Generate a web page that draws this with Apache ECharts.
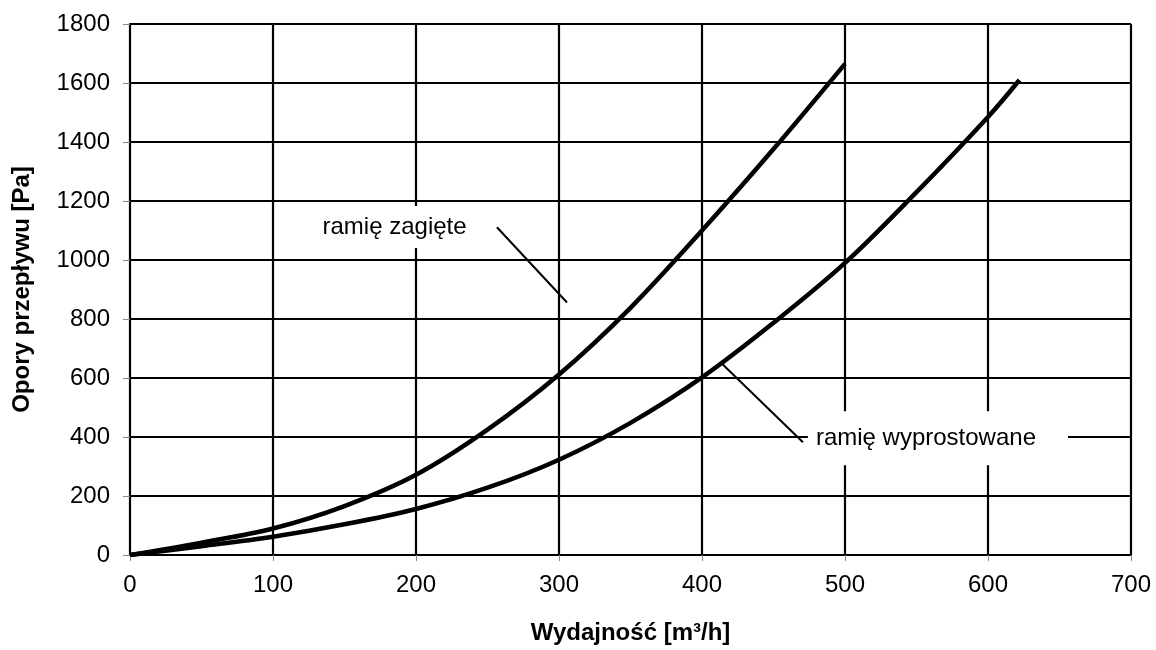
<!DOCTYPE html>
<html>
<head>
<meta charset="utf-8">
<script src="https://cdn.jsdelivr.net/npm/echarts@6/dist/echarts.min.js"></script>
<style>html,body{margin:0;padding:0;background:#fff}#c{width:1156px;height:650px}</style>
</head>
<body>
<div id="c"></div>
<script>
// Flow rate [m3/h] and pressure drop [Pa]
const zagieteQ = [0, 50, 100, 150, 200, 250, 300, 350, 400, 450, 500];
const zagieteP = [0, 42, 90, 166, 272, 425, 612, 838, 1100, 1376, 1665];
const wyprostQ = [0, 50, 100, 150, 200, 250, 300, 350, 400, 450, 500, 550, 600, 622];
const wyprostP = [0, 30, 62, 104, 156, 228, 323, 448, 602, 787, 990, 1230, 1485, 1610];
const xTicks = [0, 100, 200, 300, 400, 500, 600, 700];
const yTicks = [0, 200, 400, 600, 800, 1000, 1200, 1400, 1600, 1800];
const seriesNames = ['ramię zagięte', 'ramię wyprostowane'];
// annotation anchors (data coordinates)
const leaderZagiete = [[256.6, 1111], [305.6, 856]];
const leaderWyprost = [[414, 648], [470.6, 382]];
const labelZagiete = [185, 1112];
const labelWyprost = [565, 396];

const pairs = (xs, ys) => xs.map((x, i) => [x, ys[i]]);
const FONT = 'Liberation Sans, Arial, sans-serif';

const chart = echarts.init(document.getElementById('c'));
chart.setOption({
  backgroundColor: '#fff',
  animation: false,
  grid: { left: 130, right: 25, top: 24, bottom: 90 },
  xAxis: {
    type: 'value', min: xTicks[0], max: xTicks[xTicks.length - 1], interval: 100,
    name: 'Wydajność [m³/h]', nameLocation: 'middle', nameGap: 66,
    nameTextStyle: { fontFamily: FONT, fontSize: 24, fontWeight: 'bold', color: '#000' },
    axisLine: { show: true, lineStyle: { color: '#000', width: 2 } },
    axisTick: { show: true, length: 6, lineStyle: { color: '#888', width: 1 } },
    axisLabel: { fontFamily: FONT, fontSize: 24, color: '#000', margin: 18, formatter: v => String(v) },
    splitLine: { show: true, lineStyle: { color: '#000', width: 2.2 } }
  },
  yAxis: {
    type: 'value', min: yTicks[0], max: yTicks[yTicks.length - 1], interval: 200,
    name: 'Opory przepływu [Pa]', nameLocation: 'middle', nameGap: 96,
    nameTextStyle: { fontFamily: FONT, fontSize: 24, fontWeight: 'bold', color: '#000' },
    axisLine: { show: true, lineStyle: { color: '#000', width: 2 } },
    axisTick: { show: true, length: 7, lineStyle: { color: '#888', width: 1 } },
    axisLabel: { fontFamily: FONT, fontSize: 24, color: '#000', margin: 20, formatter: v => String(v) },
    splitLine: { show: true, lineStyle: { color: '#000', width: 2.2 } }
  },
  series: [
    { name: seriesNames[0], type: 'line', data: pairs(zagieteQ, zagieteP), smooth: 0.35,
      symbol: 'none', lineStyle: { color: '#000', width: 4.5 }, z: 3 },
    { name: seriesNames[1], type: 'line', data: pairs(wyprostQ, wyprostP), smooth: 0.35,
      symbol: 'none', lineStyle: { color: '#000', width: 4.5 }, z: 3 },
    { type: 'line', data: leaderZagiete, symbol: 'none', lineStyle: { color: '#000', width: 2 }, z: 3 },
    { type: 'line', data: leaderWyprost, symbol: 'none', lineStyle: { color: '#000', width: 2 }, z: 3 },
    { type: 'scatter', symbolSize: 0, z: 4, silent: true, itemStyle: { opacity: 1 },
      data: [
        { value: labelZagiete, name: seriesNames[0], label: { padding: [9, 12, 9, 12] } },
        { value: labelWyprost, name: seriesNames[1], label: { padding: [15, 32, 15, 8] } }
      ],
      label: { show: true, position: 'inside', formatter: p => p.name, fontFamily: FONT, fontSize: 24,
        color: '#000', opacity: 1, textBorderWidth: 0, backgroundColor: '#fff' } }
  ]
});
</script>
</body>
</html>
